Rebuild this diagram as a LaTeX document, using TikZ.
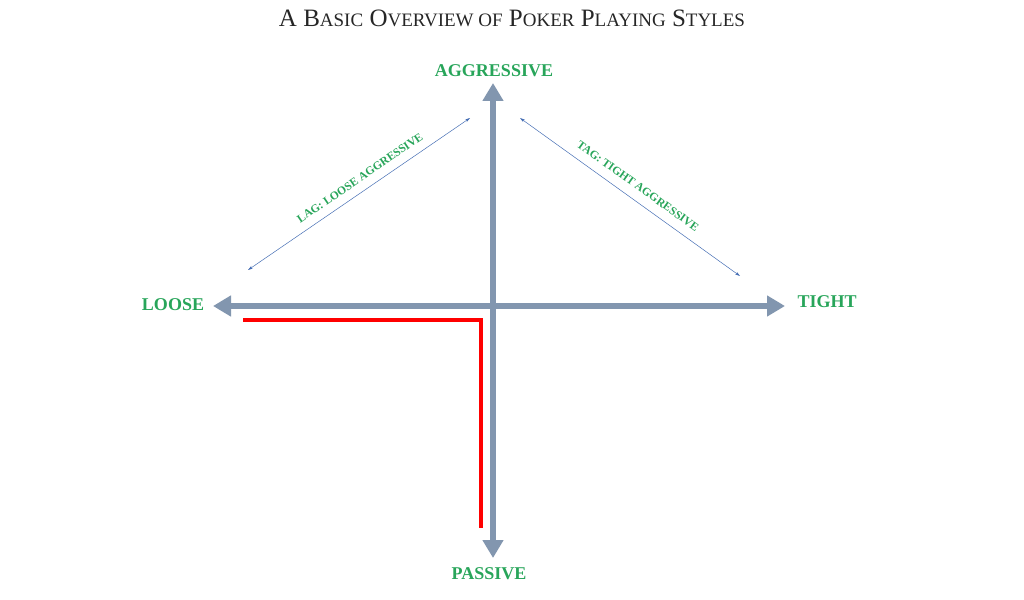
\documentclass[tikz,border=0pt]{standalone}
\usepackage{fontspec}
\setmainfont{Liberation Serif}
\usetikzlibrary{arrows.meta}
\definecolor{axisc}{RGB}{130,150,175}
\definecolor{lblg}{RGB}{40,165,90}
\definecolor{thinb}{RGB}{70,110,180}
\newcommand{\smc}[1]{{\fontsize{19}{21}\selectfont #1}}
\begin{document}
\begin{tikzpicture}[x=1pt,y=-1pt,
  axis/.style={draw=axisc,line width=6pt,{Triangle[length=18pt,width=20pt]}-{Triangle[length=18pt,width=20pt]}},
  thin/.style={draw=thinb,line width=0.5pt,{Stealth[length=5pt,width=3pt]}-{Stealth[length=5pt,width=3pt]}},
  lbl/.style={text=lblg,font=\fontsize{18}{20}\selectfont\bfseries},
  dlbl/.style={text=lblg,font=\fontsize{11.5}{13}\selectfont\bfseries}]
\useasboundingbox (0,0) rectangle (1024,599);
\node[font=\fontsize{25}{27}\selectfont,text=black!85] (title) at (512,18) {A B\smc{ASIC} O\smc{VERVIEW OF} P\smc{OKER} P\smc{LAYING} S\smc{TYLES}};
\coordinate (top) at (493,83);
\coordinate (bot) at (493,558);
\coordinate (lft) at (213,306);
\coordinate (rgt) at (785,306);
\draw[axis] (bot) -- (top);
\draw[axis] (lft) -- (rgt);
\node[lbl] (agg) at (494,71) {AGGRESSIVE};
\node[lbl] (pas) at (489,574) {PASSIVE};
\node[lbl] (loo) at (173,305) {LOOSE};
\node[lbl] (tig) at (827,302) {TIGHT};
\coordinate (l1) at (248,270); \coordinate (l2) at (470,118);
\coordinate (t1) at (520,118); \coordinate (t2) at (740,276);
\draw[thin] (l1) -- (l2);
\draw[thin] (t1) -- (t2);
\node[dlbl,rotate=34.4] (lag) at (360,178) {LAG: LOOSE AGGRESSIVE};
\node[dlbl,rotate=-35.7] (tag) at (638,186) {TAG: TIGHT AGGRESSIVE};
\coordinate (r1) at (243,320); \coordinate (r2) at (481,320); \coordinate (r3) at (481,528);
\draw[red,line width=4pt] (r1) -- (r2) -- (r3);
\end{tikzpicture}
\end{document}
